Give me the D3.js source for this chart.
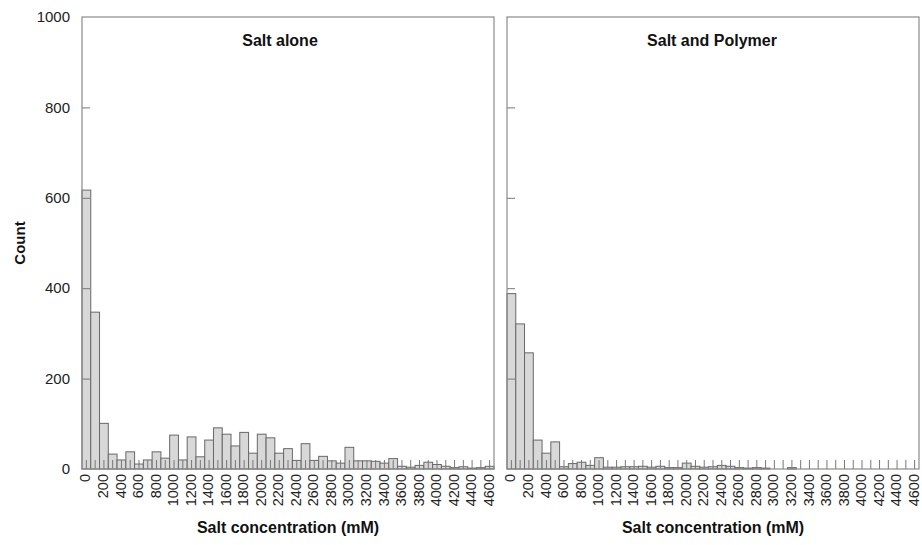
<!DOCTYPE html>
<html>
<head>
<meta charset="utf-8">
<script src="https://cdn.jsdelivr.net/npm/d3@7"></script>
<style>
  body { margin: 0; background: #fff; }
  svg { display: block; font-family: "Liberation Sans", Arial, sans-serif; }
</style>
</head>
<body>
<svg id="chart" width="922" height="545"></svg>
<script>
// Histogram bins (lower edge of each 100 mM bin)
const bins = [0, 100, 200, 300, 400, 500, 600, 700, 800, 900,
  1000, 1100, 1200, 1300, 1400, 1500, 1600, 1700, 1800, 1900,
  2000, 2100, 2200, 2300, 2400, 2500, 2600, 2700, 2800, 2900,
  3000, 3100, 3200, 3300, 3400, 3500, 3600, 3700, 3800, 3900,
  4000, 4100, 4200, 4300, 4400, 4500, 4600];

// Counts per bin: salt alone
const saltAlone = [617, 347, 101, 33, 20, 38, 11, 20, 38, 24,
  75, 20, 71, 27, 64, 91, 77, 51, 81, 35,
  77, 69, 35, 45, 19, 56, 19, 28, 18, 13,
  48, 18, 18, 17, 13, 23, 6, 4, 8, 15,
  10, 6, 3, 5, 2, 3, 6];

// Counts per bin: salt and polymer
const saltPolymer = [388, 321, 257, 64, 35, 60, 5, 12, 15, 8,
  25, 4, 4, 5, 5, 6, 4, 6, 3, 3,
  13, 6, 4, 5, 8, 6, 3, 2, 3, 2,
  0, 0, 3, 0, 0, 0, 0, 0, 0, 0,
  0, 0, 0, 0, 0, 0, 0];

const yTicks = [0, 200, 400, 600, 800, 1000];
const xTickLabels = [0, 200, 400, 600, 800, 1000, 1200, 1400, 1600, 1800,
  2000, 2200, 2400, 2600, 2800, 3000, 3200, 3400, 3600, 3800,
  4000, 4200, 4400, 4600];

const panels = [
  { title: "Salt alone", values: saltAlone, left: 82, titleShift: -8, showYLabels: true },
  { title: "Salt and Polymer", values: saltPolymer, left: 507, titleShift: -1, showYLabels: false }
];

const svg = d3.select("#chart");
const plotTop = 17, plotBottom = 469, panelW = 412;
const frameColor = "#8a8a8a";

const y = d3.scaleLinear().domain([0, 1000]).range([plotBottom, plotTop]);

panels.forEach(p => {
  const x = d3.scaleBand().domain(bins).range([p.left, p.left + panelW]).padding(0);
  const g = svg.append("g");

  // bars
  g.selectAll("rect.bar")
    .data(bins.map((b, i) => ({ bin: b, v: p.values[i] })).filter(d => d.v > 0))
    .join("rect")
    .attr("class", "bar")
    .attr("x", d => x(d.bin))
    .attr("y", d => y(d.v))
    .attr("width", x.bandwidth())
    .attr("height", d => plotBottom - y(d.v))
    .attr("fill", "#d8d8d8")
    .attr("stroke", "#686868")
    .attr("stroke-width", 1);

  // inward x ticks at every bin centre
  const xAxis = d3.axisTop(x).tickSize(9).tickFormat("");
  const xa = g.append("g").attr("transform", `translate(0,${plotBottom})`).call(xAxis);
  xa.select(".domain").remove();
  xa.selectAll("line").attr("stroke", "#777");

  // inward y ticks
  const yAxis = d3.axisRight(y).tickValues(yTicks.slice(1, -1)).tickSize(8).tickFormat("");
  const ya = g.append("g").attr("transform", `translate(${p.left},0)`).call(yAxis);
  ya.select(".domain").remove();
  ya.selectAll("line").attr("stroke", "#777");

  // frame
  g.append("rect")
    .attr("x", p.left).attr("y", plotTop)
    .attr("width", panelW).attr("height", plotBottom - plotTop)
    .attr("fill", "none").attr("stroke", frameColor).attr("stroke-width", 1.2);

  // rotated x tick labels
  g.selectAll("text.xt")
    .data(xTickLabels)
    .join("text")
    .attr("class", "xt")
    .attr("transform", d => `translate(${x(d) + x.bandwidth() / 2 - 1},${plotBottom + 5}) rotate(-90)`)
    .attr("text-anchor", "end")
    .attr("dy", "0.35em")
    .attr("font-size", 14.5)
    .attr("fill", "#222")
    .text(d => d);

  // panel title
  g.append("text")
    .attr("x", p.left + panelW / 2 + p.titleShift)
    .attr("y", 46)
    .attr("text-anchor", "middle")
    .attr("font-size", 16)
    .attr("font-weight", "bold")
    .attr("fill", "#111")
    .text(p.title);

  // x axis title
  g.append("text")
    .attr("x", p.left + panelW / 2)
    .attr("y", 533)
    .attr("text-anchor", "middle")
    .attr("font-size", 16)
    .attr("font-weight", "bold")
    .attr("fill", "#111")
    .text("Salt concentration (mM)");

  if (p.showYLabels) {
    g.selectAll("text.yt")
      .data(yTicks)
      .join("text")
      .attr("class", "yt")
      .attr("x", 70)
      .attr("y", d => y(d))
      .attr("dy", "0.35em")
      .attr("text-anchor", "end")
      .attr("font-size", 15)
      .attr("fill", "#222")
      .text(d => d);
  }
});

// y axis title
svg.append("text")
  .attr("transform", "translate(25,243) rotate(-90)")
  .attr("text-anchor", "middle")
  .attr("font-size", 15)
  .attr("font-weight", "bold")
  .attr("fill", "#111")
  .text("Count");
</script>
</body>
</html>
